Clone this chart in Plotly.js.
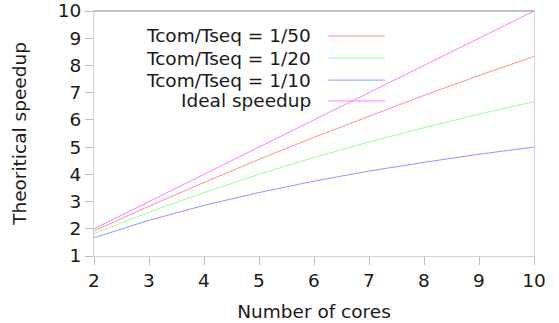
<!DOCTYPE html>
<html>
<head>
<meta charset="utf-8">
<script src="https://cdn.plot.ly/plotly-3.0.1.min.js"></script>
<style>html,body{margin:0;padding:0;background:#fff;}#chart{width:559px;height:323px;}</style>
</head>
<body>
<div id="chart"></div>
<script>
const cores = [2, 3, 4, 5, 6, 7, 8, 9, 10];
const speedup50 = [1.92, 2.83, 3.70, 4.55, 5.36, 6.14, 6.90, 7.63, 8.33];
const speedup20 = [1.82, 2.61, 3.33, 4.00, 4.62, 5.19, 5.71, 6.21, 6.67];
const speedup10 = [1.67, 2.31, 2.86, 3.33, 3.75, 4.12, 4.44, 4.74, 5.00];
const ideal = [2, 3, 4, 5, 6, 7, 8, 9, 10];
const seriesNames = ["Tcom/Tseq = 1/50", "Tcom/Tseq = 1/20", "Tcom/Tseq = 1/10", "Ideal speedup"];
const xTicks = [2, 3, 4, 5, 6, 7, 8, 9, 10];
const yTicks = [1, 2, 3, 4, 5, 6, 7, 8, 9, 10];

const colors = ["#ff8484", "#90ff90", "#8a8aff", "#ff70ff"];
const series = [speedup50, speedup20, speedup10, ideal];

const traces = series.map((ys, i) => ({
  x: cores, y: ys, type: "scatter", mode: "lines", name: seriesNames[i],
  line: {color: colors[i], width: 0.9}, showlegend: false, hoverinfo: "skip"
}));

const font = {family: "DejaVu Sans, sans-serif", size: 18.5, color: "#1a1a1a"};
const legendY = [0.898, 0.808, 0.718, 0.633];
const annotations = seriesNames.map((n, i) => ({
  xref: "paper", yref: "paper", x: 0.498, y: legendY[i], xanchor: "right", yanchor: "middle",
  text: n, showarrow: false, font: font
}));
const shapes = seriesNames.map((n, i) => ({
  type: "line", xref: "paper", yref: "paper", x0: 0.532, x1: 0.661, y0: legendY[i], y1: legendY[i],
  line: {color: colors[i], width: 0.9}
}));
shapes.push({type: "line", xref: "paper", yref: "paper", x0: 0, x1: 1, y0: 1, y1: 1,
  line: {color: "#9a9a9a", width: 1}});

const layout = {
  width: 559, height: 323,
  margin: {l: 94, r: 25, t: 11, b: 67},
  paper_bgcolor: "#fff", plot_bgcolor: "#fff",
  font: font,
  showlegend: false,
  xaxis: {
    range: [2, 10], tickvals: xTicks, ticktext: xTicks.map(String),
    showgrid: false, zeroline: false, showline: true, linecolor: "#d4d4d4", linewidth: 1, mirror: true,
    ticks: "outside", ticklen: 8, tickcolor: "#bdbdbd", tickwidth: 1,
    tickfont: font,
    title: {text: "Number of cores", font: font, standoff: 14}
  },
  yaxis: {
    range: [1, 10], tickvals: yTicks, ticktext: yTicks.map(String),
    showgrid: false, zeroline: false, showline: true, linecolor: "#d4d4d4", linewidth: 1, mirror: true,
    ticks: "outside", ticklen: 8, tickcolor: "#bdbdbd", tickwidth: 1,
    tickfont: font,
    title: {text: "Theoritical speedup", font: font, standoff: 26}
  },
  annotations: annotations,
  shapes: shapes
};

Plotly.newPlot("chart", traces, layout, {staticPlot: true, displayModeBar: false});
</script>
</body>
</html>
